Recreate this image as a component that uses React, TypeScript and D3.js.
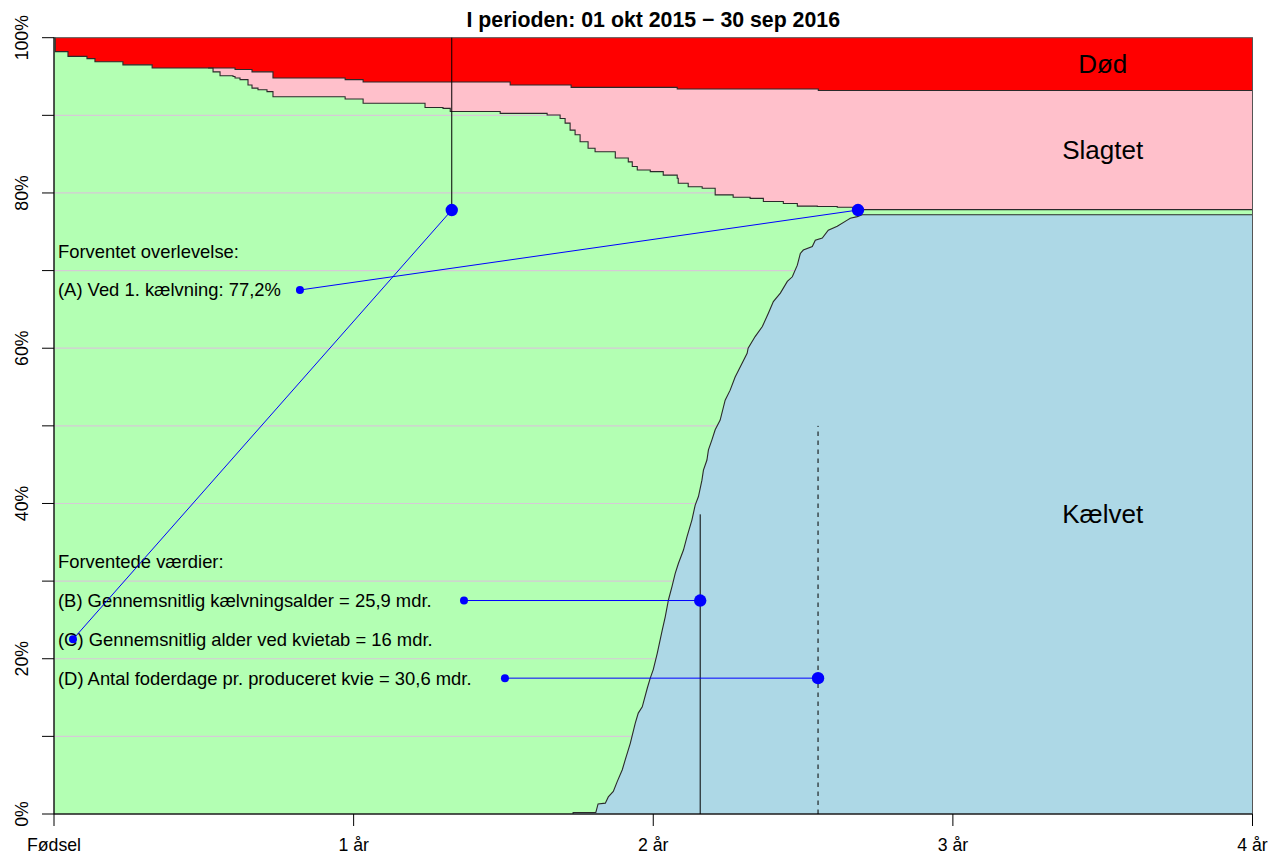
import React, { useEffect, useRef } from "react";
import * as d3 from "d3";

type Pt = [number, number]; // [months since birth, percent]

const title = "I perioden: 01 okt 2015 − 30 sep 2016";

const xTicks = [0, 12, 24, 36, 48];
const xTickLabels = ["Fødsel", "1 år", "2 år", "3 år", "4 år"];
const yTicks = [0, 10, 20, 30, 40, 50, 60, 70, 80, 90, 100];
const yLabelTicks = [0, 20, 40, 60, 80, 100];
const yTickLabels = ["0%", "20%", "40%", "60%", "80%", "100%"];
const gridLevels = [10, 20, 30, 40, 50, 60, 70, 80, 90];

// upper edge of the "Død" band (step function)
const deadLine: Pt[] = [
  [0, 100], [0.05, 98.2], [0.56, 97.6], [1.32, 97.3], [1.64, 96.9],
  [2.76, 96.5], [3.93, 96.1], [7.25, 95.9], [7.93, 95.6], [8.77, 94.8],
  [11.66, 94.6], [12.38, 94.3], [18.27, 93.9], [20.71, 93.6],
  [24.96, 93.4], [30.61, 93.2], [48, 93.2],
];

// upper edge of the green (alive, not calved) band (step function)
const slaughterLine: Pt[] = [
  [6.17, 96.1], [6.37, 95.6], [6.65, 95.1], [7.17, 95.0], [7.25, 94.8],
  [7.45, 94.6], [7.77, 93.9], [7.93, 93.5], [8.17, 93.3], [8.53, 93.05],
  [8.77, 92.4], [11.66, 92.1], [12.38, 91.55], [14.86, 91.0], [15.58, 90.9],
  [15.87, 90.5], [17.87, 90.25], [19.75, 90.05], [20.27, 89.6], [20.47, 89.0],
  [20.67, 88.1], [20.87, 87.5], [21.07, 86.6], [21.39, 85.75], [21.67, 85.3],
  [22.48, 84.5], [23.0, 84.0], [23.16, 83.4], [23.36, 82.95], [23.88, 82.75],
  [24.4, 82.3], [24.96, 81.9], [25.0, 81.25], [25.4, 80.8], [25.96, 80.6],
  [26.48, 79.75], [27.2, 79.45], [27.88, 79.3], [28.41, 78.9], [29.21, 78.65],
  [29.77, 78.3], [30.57, 78.25], [31.37, 78.15], [32.01, 78.0], [32.29, 77.85],
  [48, 77.85],
];

// upper edge of the "Kælvet" band
const calvedLine: Pt[] = [
  [0, 0], [20.79, 0], [20.79, 0.2], [21.7, 0.2], [21.79, 1.3], [22.08, 1.4],
  [22.2, 2.2], [22.4, 2.9], [22.56, 4.2], [22.76, 5.7], [22.88, 7.0],
  [23.08, 9.1], [23.28, 11.7], [23.4, 13.0], [23.56, 13.8], [23.76, 16.2],
  [23.88, 17.5], [24.0, 18.6], [24.16, 20.7], [24.36, 23.7], [24.48, 25.4],
  [24.61, 27.6], [24.75, 29.3], [24.88, 31.0], [25.01, 32.3], [25.21, 34.0],
  [25.35, 35.7], [25.55, 37.9], [25.68, 39.8], [25.81, 40.9], [25.95, 43.0],
  [26.01, 44.3], [26.15, 45.6], [26.21, 46.9], [26.35, 48.2], [26.48, 49.5],
  [26.68, 50.75], [26.88, 53.3], [27.08, 54.6], [27.28, 56.3], [27.76, 59.35],
  [27.8, 60.0], [28.08, 61.5], [28.37, 62.8], [28.61, 64.5], [28.81, 66.0],
  [29.09, 67.1], [29.37, 68.6], [29.57, 69.2], [29.77, 70.7], [29.89, 72.2],
  [30.01, 72.65], [30.37, 73.1], [30.49, 73.9], [30.77, 74.2], [31.01, 75.2],
  [31.37, 75.7], [31.77, 76.5], [31.89, 76.75], [32.17, 76.95], [32.37, 77.2],
  [48, 77.2],
];

const regionLabels = ["Død", "Slagtet", "Kælvet"];
const regionLabelMonth = 42;

const infoText = [
  "Forventet overlevelse:",
  "(A) Ved 1. kælvning: 77,2%",
  "Forventede værdier:",
  "(B) Gennemsnitlig kælvningsalder = 25,9 mdr.",
  "(C) Gennemsnitlig alder ved kvietab = 16 mdr.",
  "(D) Antal foderdage pr. produceret kvie = 30,6 mdr.",
];
const infoLevel = [72.5, 67.5, 32.5, 27.5, 22.5, 17.5];

// pointer lines from the text to the value markers
const pointerFrom: Pt[] = [[9.85, 67.5], [16.42, 27.5], [0.76, 22.5], [18.06, 17.5]];
const pointerTo: Pt[] = [[32.2, 77.8], [25.88, 27.5], [15.93, 77.8], [30.6, 17.5]];

// vertical marker lines: month, from %, to %
const markerMonth = [15.93, 25.88, 30.6];
const markerFrom = [100, 0, 0];
const markerTo = [77.8, 38.6, 50];
const markerDashed = [false, false, true];

function App(): JSX.Element {
  const svgRef = useRef<SVGSVGElement>(null);

  useEffect(() => {
    if (!svgRef.current) return;
    const svg = d3.select(svgRef.current);
    svg.selectAll("*").remove();

    const x = d3.scaleLinear().domain([0, 48]).range([54, 1252.5]);
    const y = d3.scaleLinear().domain([0, 100]).range([814, 37.7]);
    const [x0, x1] = x.range();

    // background (green band)
    svg
      .append("rect")
      .attr("x", x0)
      .attr("y", y(100))
      .attr("width", x1 - x0)
      .attr("height", y(0) - y(100))
      .attr("fill", "#b3ffb3");

    // grid
    svg
      .selectAll(".grid")
      .data(gridLevels)
      .enter()
      .append("line")
      .attr("x1", x0)
      .attr("x2", x1)
      .attr("y1", (d) => y(d))
      .attr("y2", (d) => y(d))
      .attr("stroke", "#d6cad6")
      .attr("stroke-width", 1.2);

    const topArea = d3
      .area<Pt>()
      .x((d) => x(d[0]))
      .y0(y(100))
      .y1((d) => y(d[1]))
      .curve(d3.curveStepAfter);

    svg.append("path").datum(slaughterLine).attr("d", topArea).attr("fill", "#ffc0cb");
    svg.append("path").datum(deadLine).attr("d", topArea).attr("fill", "#ff0000");

    const bottomArea = d3
      .area<Pt>()
      .x((d) => x(d[0]))
      .y0(y(0))
      .y1((d) => y(d[1]));
    svg.append("path").datum(calvedLine).attr("d", bottomArea).attr("fill", "#add8e6");

    const stepLine = d3
      .line<Pt>()
      .x((d) => x(d[0]))
      .y((d) => y(d[1]))
      .curve(d3.curveStepAfter);
    const plainLine = d3
      .line<Pt>()
      .x((d) => x(d[0]))
      .y((d) => y(d[1]));

    [deadLine, slaughterLine].forEach((data) => {
      svg
        .append("path")
        .datum(data)
        .attr("d", stepLine)
        .attr("fill", "none")
        .attr("stroke", "#2a2a2a")
        .attr("stroke-width", 1.1);
    });
    svg
      .append("path")
      .datum(calvedLine.filter((d) => d[0] > 20))
      .attr("d", plainLine)
      .attr("fill", "none")
      .attr("stroke", "#2a2a2a")
      .attr("stroke-width", 1.1);

    // frame
    svg
      .append("rect")
      .attr("x", x0)
      .attr("y", y(100))
      .attr("width", x1 - x0)
      .attr("height", y(0) - y(100))
      .attr("fill", "none")
      .attr("stroke", "#555")
      .attr("stroke-width", 1);

    // axes
    svg
      .append("line")
      .attr("x1", x0)
      .attr("x2", x1)
      .attr("y1", y(0))
      .attr("y2", y(0))
      .attr("stroke", "#000");
    svg
      .append("line")
      .attr("x1", x0)
      .attr("x2", x0)
      .attr("y1", y(0))
      .attr("y2", y(100))
      .attr("stroke", "#000");

    svg
      .selectAll(".xtick")
      .data(xTicks)
      .enter()
      .append("line")
      .attr("x1", (d) => x(d))
      .attr("x2", (d) => x(d))
      .attr("y1", y(0))
      .attr("y2", y(0) + 12)
      .attr("stroke", "#000");
    svg
      .selectAll(".xlab")
      .data(xTicks)
      .enter()
      .append("text")
      .attr("x", (d) => x(d))
      .attr("y", 851)
      .attr("text-anchor", "middle")
      .style("font-size", "17.7px")
      .text((_, i) => xTickLabels[i]);

    svg
      .selectAll(".ytick")
      .data(yTicks)
      .enter()
      .append("line")
      .attr("x1", x0 - 12)
      .attr("x2", x0)
      .attr("y1", (d) => y(d))
      .attr("y2", (d) => y(d))
      .attr("stroke", "#000");
    svg
      .selectAll(".ylab")
      .data(yLabelTicks)
      .enter()
      .append("text")
      .attr("transform", (d) => `translate(28,${y(d)}) rotate(-90)`)
      .attr("text-anchor", "middle")
      .style("font-size", "17.7px")
      .text((_, i) => yTickLabels[i]);

    // title
    svg
      .append("text")
      .attr("x", (x0 + x1) / 2)
      .attr("y", 26.5)
      .attr("text-anchor", "middle")
      .style("font-size", "21.3px")
      .style("font-weight", "bold")
      .text(title);

    // region labels in the middle of each band at the right end
    const lastDead = deadLine[deadLine.length - 1][1];
    const lastSlaughter = slaughterLine[slaughterLine.length - 1][1];
    const lastCalved = calvedLine[calvedLine.length - 1][1];
    const bandMid = [(100 + lastDead) / 2, (lastDead + lastSlaughter) / 2, lastCalved / 2];
    regionLabels.forEach((label, i) => {
      svg
        .append("text")
        .attr("x", x(regionLabelMonth))
        .attr("y", y(bandMid[i]) + 9)
        .attr("text-anchor", "middle")
        .style("font-size", "26px")
        .text(label);
    });

    // info text
    infoText.forEach((t, i) => {
      svg
        .append("text")
        .attr("x", x0 + 4)
        .attr("y", y(infoLevel[i]) + 6.5)
        .style("font-size", "18.4px")
        .text(t);
    });

    // vertical markers
    markerMonth.forEach((m, i) => {
      svg
        .append("line")
        .attr("x1", x(m))
        .attr("x2", x(m))
        .attr("y1", y(markerFrom[i]))
        .attr("y2", y(markerTo[i]))
        .attr("stroke", "#000")
        .attr("stroke-width", 1)
        .attr("stroke-dasharray", markerDashed[i] ? "4.5,4.5" : null);
    });

    // pointers
    pointerFrom.forEach((p, i) => {
      const q = pointerTo[i];
      svg
        .append("line")
        .attr("x1", x(p[0]))
        .attr("y1", y(p[1]))
        .attr("x2", x(q[0]))
        .attr("y2", y(q[1]))
        .attr("stroke", "#0000ff")
        .attr("stroke-width", 1);
      svg
        .append("circle")
        .attr("cx", x(p[0]))
        .attr("cy", y(p[1]))
        .attr("r", 4)
        .attr("fill", "#0000ff");
      svg
        .append("circle")
        .attr("cx", x(q[0]))
        .attr("cy", y(q[1]))
        .attr("r", 6.2)
        .attr("fill", "#0000ff");
    });
  }, []);

  return (
    <svg
      ref={svgRef}
      width={1272}
      height={858}
      style={{
        position: "absolute",
        left: 0,
        top: 0,
        background: "#fff",
        fontFamily: "'Liberation Sans', Arial, sans-serif",
      }}
    />
  );
}

export default App;
